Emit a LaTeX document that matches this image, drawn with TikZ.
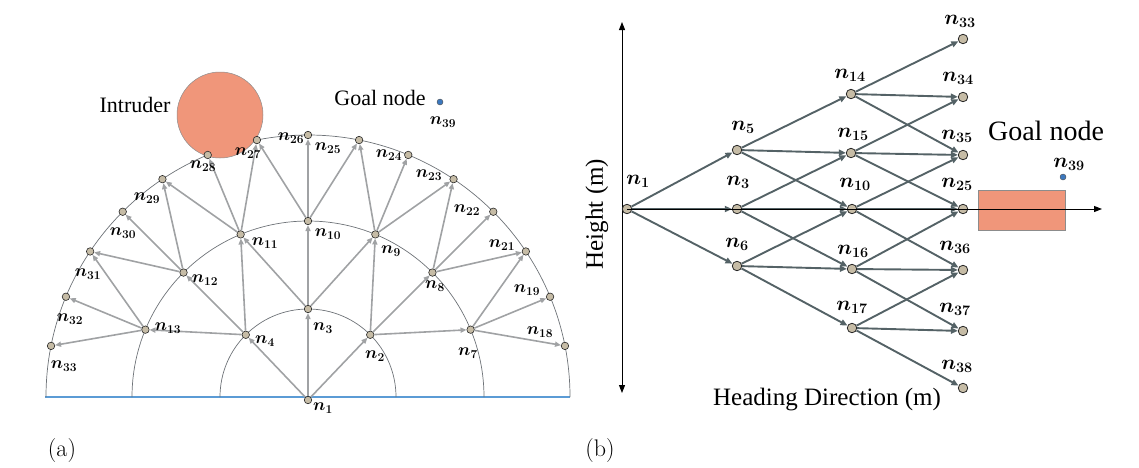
\documentclass[tikz,border=0pt]{standalone}
\usepackage{fontspec}
\newfontfamily\tnr{Liberation Serif}
\usetikzlibrary{arrows.meta}
\definecolor{salmonc}{RGB}{240,150,122}
\definecolor{tanc}{RGB}{198,188,166}
\definecolor{edgegray}{RGB}{160,162,164}
\definecolor{edgedark}{RGB}{84,98,102}
\definecolor{arcgray}{RGB}{110,115,120}
\definecolor{baseblue}{RGB}{91,155,213}
\definecolor{goalblue}{RGB}{60,120,190}
\begin{document}
\begin{tikzpicture}[x=1pt,y=-1pt,
  nodeA/.style={circle,draw=black!85,fill=tanc,line width=0.6pt,inner sep=0pt,minimum size=7.5pt},
  nodeB/.style={circle,draw=black!85,fill=tanc,line width=0.8pt,inner sep=0pt,minimum size=9.5pt},
  goaldot/.style={circle,draw=black!70,fill=goalblue,line width=0.4pt,inner sep=0pt,minimum size=6pt},
  edgeA/.style={draw=edgegray,line width=1.6pt,-{Triangle[length=6pt,width=5pt]}},
  edgeB/.style={draw=edgedark,line width=1.9pt,-{Triangle[length=7pt,width=6pt]}},
  arcst/.style={draw=arcgray,line width=0.7pt},
  axisst/.style={draw=black,line width=1pt},
  lblA/.style={font=\fontsize{18}{18}\selectfont\boldmath,inner sep=0pt},
  lblB/.style={font=\fontsize{21}{21}\selectfont\boldmath,inner sep=0pt},
  txtA/.style={font=\tnr\fontsize{22}{22}\selectfont,inner sep=0pt},
  txtB/.style={font=\tnr\fontsize{25}{25}\selectfont,inner sep=0pt},
  caps/.style={font=\fontsize{24}{24}\selectfont,inner sep=0pt}
]
\useasboundingbox (0,0) rectangle (1139,467);

% ---------------- panel (a) ----------------
\coordinate (bl) at (45,397);
\coordinate (br) at (570,397);
\draw[draw=baseblue,line width=1.3pt] (bl) -- (br);
\draw[arcst] (396,397) arc[start angle=0,end angle=-180,radius=88];
\draw[arcst] (484,397) arc[start angle=0,end angle=-180,radius=176];
\draw[arcst] (570,397) arc[start angle=0,end angle=-180,radius=262];

\node[circle,draw=black!45,fill=salmonc,line width=0.5pt,minimum size=86pt,inner sep=0pt] (intr) at (220,115) {};
\node[txtA] (intrt) at (135,105) {Intruder};
\node[txtA] (goalta) at (380,98) {Goal node};
\node[goaldot] (a39) at (440,102) {};
\node[lblA] (la39) at (443,122) {$n_{39}$};

\node[nodeA] (a1) at (308,400) {};
\foreach \nm/\ang in {2/45,3/90,4/135}
  \node[nodeA] (a\nm) at ({308+88*cos(\ang)},{397-88*sin(\ang)}) {};
\foreach \nm/\ang in {7/22.5,8/45,9/67.5,10/90,11/112.5,12/135,13/157.5}
  \node[nodeA] (a\nm) at ({308+176*cos(\ang)},{397-176*sin(\ang)}) {};
\foreach \nm/\ang in {18/11.25,19/22.5,21/33.75,22/45,23/56.25,24/67.5,25/78.75,26/90,27/101.25,28/112.5,29/123.75,30/135,31/146.25,32/157.5,33/168.75}
  \node[nodeA] (a\nm) at ({308+262*cos(\ang)},{397-262*sin(\ang)}) {};

\foreach \s/\t in {1/2,1/3,1/4,2/7,2/8,2/9,3/9,3/10,3/11,4/11,4/12,4/13,
  7/18,7/19,7/21,8/21,8/22,8/23,9/23,9/24,9/25,10/25,10/26,10/27,
  11/27,11/28,11/29,12/29,12/30,12/31,13/31,13/32,13/33}
  \draw[edgeA] (a\s) -- (a\t);

\foreach \nm/\x/\y in {1/323/408,2/375/356,3/323/328,4/265/341,7/468/353,8/435/286,
  9/391/251,10/328/234,11/265/243,12/205/280,13/168/328,18/540/332,19/527/290,
  21/502/245,22/467/210,23/429/175,24/389/155,25/328/148,26/291/138,27/248/153,
  28/203/166,29/147/198,30/123/233,31/88/274,32/70/319,33/64/366}
  \node[lblA] (la\nm) at (\x,\y) {$n_{\nm}$};

\node[caps] (capa) at (62,450) {(a)};

% ---------------- panel (b) ----------------
\node[draw=black!45,fill=salmonc,line width=0.5pt,minimum width=87pt,minimum height=40pt,inner sep=0pt] (goalrect) at (1021.5,210) {};
\coordinate (vtop) at (622,22);
\coordinate (vbot) at (622,393);
\coordinate (hend) at (1102,209);
\draw[axisst,{Triangle[length=8pt,width=6pt]}-{Triangle[length=8pt,width=6pt]}] (vbot) -- (vtop);

\node[nodeB] (b1) at (627,209) {};
\node[nodeB] (b5) at (737,150) {};
\node[nodeB] (b3) at (737,209) {};
\node[nodeB] (b6) at (737,266) {};
\node[nodeB] (b14) at (851,94) {};
\node[nodeB] (b15) at (851,153) {};
\node[nodeB] (b10) at (852,209) {};
\node[nodeB] (b16) at (852,269) {};
\node[nodeB] (b17) at (852,328) {};
\node[nodeB] (b33) at (963,39) {};
\node[nodeB] (b34) at (963,97) {};
\node[nodeB] (b35) at (963,155) {};
\node[nodeB] (b25) at (963,209) {};
\node[nodeB] (b36) at (963,270) {};
\node[nodeB] (b37) at (963,331) {};
\node[nodeB] (b38) at (963,388) {};

\foreach \s/\t in {1/5,1/3,1/6,5/14,5/15,5/10,3/15,3/10,3/16,6/10,6/16,6/17,
  14/33,14/34,14/35,15/34,15/35,15/25,10/35,10/25,10/36,16/25,16/36,16/37,17/36,17/37,17/38}
  \draw[edgeB] (b\s) -- (b\t);
\draw[axisst,-{Triangle[length=8pt,width=6pt]}] (b1.center) -- (hend);

\foreach \nm/\x/\y in {1/638/181,5/743/127,3/738/182,6/737/244,14/850/75,15/853/134,
  10/855/184,16/853/251,17/852/307,33/960/21,34/958/78,35/957/136,25/957/184,
  36/955/247,37/955/309,38/957/366}
  \node[lblB] (lb\nm) at (\x,\y) {$n_{\nm}$};

\node[goaldot] (b39) at (1063,177) {};
\node[lblB] (lb39) at (1069,164) {$n_{39}$};
\node[txtB,font=\tnr\fontsize{28}{28}\selectfont] (goaltb) at (1046,131) {Goal node};
\node[txtB,rotate=90] (hgt) at (597,214) {Height (m)};
\node[txtB] (hdir) at (827,400) {Heading Direction (m)};
\node[caps] (capb) at (600,450) {(b)};
\end{tikzpicture}
\end{document}
